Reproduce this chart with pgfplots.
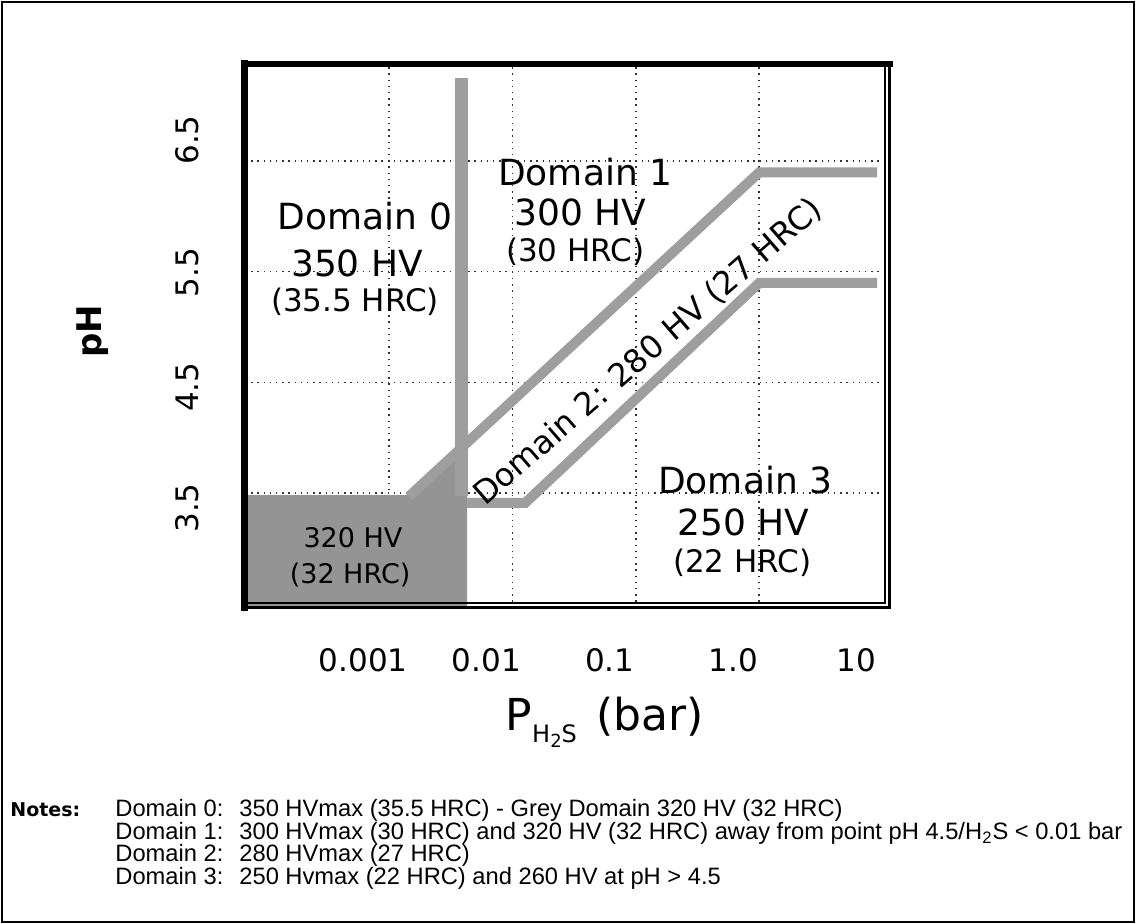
\documentclass[border=0pt]{standalone}
\usepackage{fontspec}
\setmainfont{DejaVu Sans}
\newfontfamily\notesfont{Liberation Sans}
\usepackage{pgfplots}
\pgfplotsset{compat=1.18}
\begin{document}
\begin{tikzpicture}
\useasboundingbox (0,0) rectangle (568pt,-462pt);
\fill[white] (0,0) rectangle (568pt,-462pt);
\draw[line width=1pt] (1pt,-1pt) rectangle (567pt,-461pt);
\begin{axis}[
  at={(122.5pt,-304pt)}, anchor=south west,
  scale only axis, width=322.5pt, height=272pt,
  xmode=log, xmin=6.79e-5, xmax=11.5, ymin=2.461, ymax=7.376,
  axis line style={draw=none},
  xminorticks=false,
  major tick length=0pt,
  xtick={0.001,0.01,0.1,1,10},
  xticklabels={0.001,0.01,0.1,1.0,10},
  extra x ticks={0.001,0.01,0.1,1},
  extra x tick labels={},
  extra x tick style={grid=major},
  ytick={3.5,4.5,5.5,6.5},
  yticklabels={
    {\raisebox{-7.5pt}[\height][\depth]{\rotatebox{90}{3.5}}},
    {\raisebox{-2.5pt}[\height][\depth]{\rotatebox{90}{4.5}}},
    {\raisebox{-0.5pt}[\height][\depth]{\rotatebox{90}{5.5}}},
    {\raisebox{10.5pt}[\height][\depth]{\rotatebox{90}{6.5}}}},
  ymajorgrids,
  grid style={black!80, line width=0.7pt, dash pattern=on 0.7pt off 2.4pt},
  xticklabel style={font=\fontsize{15.5}{18}\selectfont, anchor=center, yshift=-26pt, xshift=-13pt},
  yticklabel style={font=\fontsize{15.5}{18}\selectfont, anchor=center, xshift=-29pt},
  xlabel={P\raisebox{-0.5ex}{\fontsize{12}{14}\selectfont H\raisebox{-0.4ex}{\fontsize{9}{10}\selectfont 2}S}\hspace{0.45em}(bar)},
  xlabel style={at={(rel axis cs:0.558,-0.21)}, anchor=center, font=\fontsize{22}{26}\selectfont},
  clip=false,
]
% grey domain (320 HV)
\addplot[fill=black!42, draw=none] coordinates {
  (6.79e-5,2.461) (6.79e-5,3.48) (0.001374,3.48) (0.0043,3.979) (0.0043,2.461)};
% vertical boundary band (Domain 0)
\addplot[black!38, line width=6.5pt, no markers] coordinates {(0.00387,3.47) (0.00387,7.25)};
% upper band (Domain 1 / Domain 2)
\addplot[black!38, line width=5pt, line join=miter, no markers] coordinates {
  (0.001452,3.47) (1.0,6.396) (9.06,6.396)};
% lower band (Domain 2 / Domain 3)
\addplot[black!38, line width=5pt, line join=miter, no markers] coordinates {
  (0.0043,3.41) (0.01268,3.41) (1.0,5.398) (9.06,5.398)};
% labels
\node[font=\fontsize{18}{20}\selectfont] at (axis cs:6.38e-4,6.003) {Domain 0};
\node[font=\fontsize{18}{20}\selectfont] at (axis cs:5.5e-4,5.578) {350 HV};
\node[font=\fontsize{15.5}{18}\selectfont] at (axis cs:5.3e-4,5.226) {(35.5 HRC)};
\node[font=\fontsize{18}{20}\selectfont] at (axis cs:0.0389,6.40) {Domain 1};
\node[font=\fontsize{18}{20}\selectfont] at (axis cs:0.0354,6.039) {300 HV};
\node[font=\fontsize{15.5}{18}\selectfont] at (axis cs:0.0323,5.678) {(30 HRC)};
\node[font=\fontsize{16}{18}\selectfont, rotate=41, inner sep=0pt] at (axis cs:0.1262,4.774) {Domain 2: 280 HV (27 HRC)};
\node[font=\fontsize{18}{20}\selectfont] at (axis cs:0.7717,3.617) {Domain 3};
\node[font=\fontsize{18}{20}\selectfont] at (axis cs:0.742,3.238) {250 HV};
\node[font=\fontsize{15.5}{18}\selectfont] at (axis cs:0.7297,2.867) {(22 HRC)};
\node[font=\fontsize{13.5}{16}\selectfont] at (axis cs:5.1e-4,3.093) {320 HV};
\node[font=\fontsize{13.5}{16}\selectfont] at (axis cs:4.83e-4,2.759) {(32 HRC)};
\node[font=\bfseries\fontsize{17}{20}\selectfont, rotate=90] at (rel axis cs:-0.2357,0.509) {pH};
% frame
\draw[line width=3.5pt, line cap=rect] (rel axis cs:0,0) -- (rel axis cs:0,1);
\draw[line width=3pt, line cap=rect] (rel axis cs:0,1) -- (rel axis cs:1,1);
\draw[line width=1.5pt, line cap=rect] (rel axis cs:1,1) -- (rel axis cs:1,0) -- (rel axis cs:0,0);
\draw[line width=0.75pt] (rel axis cs:0.9922,1) -- (rel axis cs:0.9922,0.0092) -- (rel axis cs:0,0.0092);
\end{axis}
\node[anchor=base west, inner sep=0pt, font=\bfseries\fontsize{9.5}{11}\selectfont] at (5pt,-408.5pt) {Notes:};
\begin{scope}[every node/.style={anchor=base west, inner sep=0pt, font=\notesfont\fontsize{11.85}{14}\selectfont}]
\node at (57.5pt,-408.5pt) {Domain 0:};
\node at (119.5pt,-408.5pt) {350 HVmax (35.5 HRC) - Grey Domain 320 HV (32 HRC)};
\node at (57.5pt,-419.75pt) {Domain 1:};
\node at (119.5pt,-419.75pt) {300 HVmax (30 HRC) and 320 HV (32 HRC) away from point pH 4.5/H\textsubscript{2}S < 0.01 bar};
\node at (57.5pt,-431pt) {Domain 2:};
\node at (119.5pt,-431pt) {280 HVmax (27 HRC)};
\node at (57.5pt,-442.25pt) {Domain 3:};
\node at (119.5pt,-442.25pt) {250 Hvmax (22 HRC) and 260 HV at pH > 4.5};
\end{scope}
\end{tikzpicture}
\end{document}
